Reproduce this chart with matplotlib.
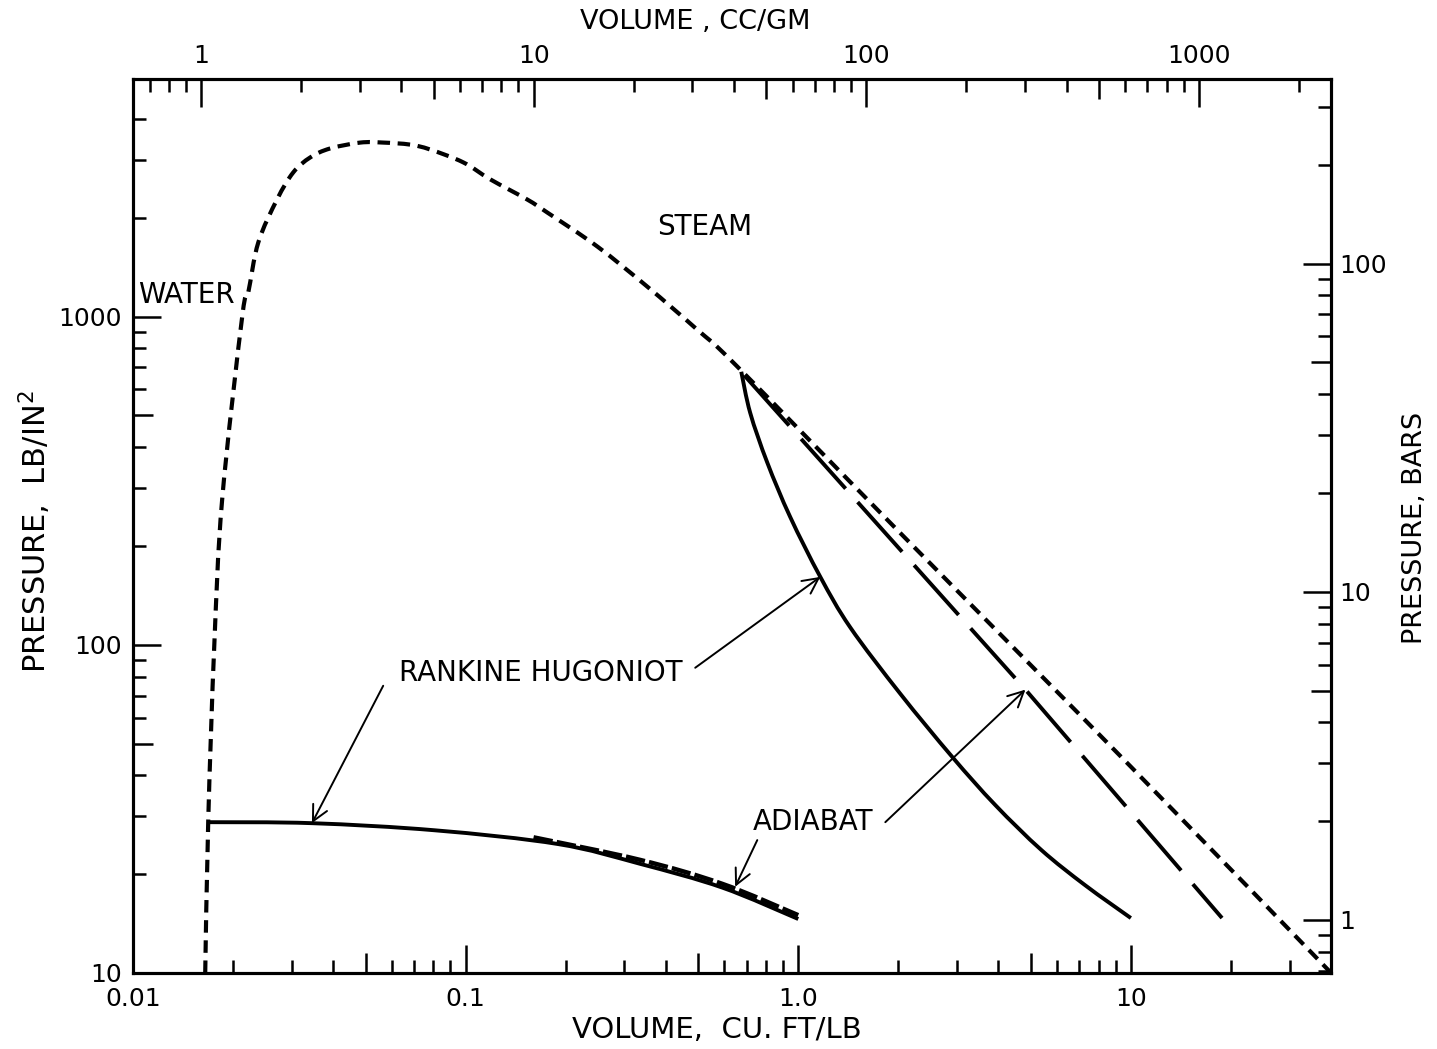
import numpy as np
import matplotlib.pyplot as plt
from matplotlib.path import Path
from matplotlib.patches import PathPatch
from matplotlib.ticker import FixedLocator, FixedFormatter, NullFormatter

plt.rcParams['font.family'] = 'DejaVu Sans'
plt.rcParams['lines.scale_dashes'] = False

PSI_PER_BAR = 14.5038
CC_GM_PER_CUFT_LB = 62.428

# saturation dome: liquid line, critical region, vapour line (cu ft/lb, psi)
sat_v = [0.01648, 0.01683, 0.01755, 0.01853, 0.02129, 0.0222, 0.0238, 0.0271,
         0.0303, 0.0341, 0.0391, 0.0482, 0.0565, 0.0681, 0.0782, 0.0983,
         0.1186, 0.153, 0.176, 0.249, 0.3516, 0.497, 0.655, 2.0, 10.0, 40.0]
sat_p = [10, 29.3, 100, 277, 1000, 1184, 1683, 2275,
         2748, 3055, 3252, 3390, 3390, 3342, 3229, 2951,
         2619, 2275, 2075, 1634, 1234, 912, 705, 222, 42.5, 10]

# Rankine-Hugoniot and adiabat from the saturated vapour point
rh_hi_v = [0.674, 0.717, 0.807, 0.946, 1.165, 1.433, 2.027, 2.90, 3.91, 5.38, 7.29, 10.0]
rh_hi_p = [679, 509, 359, 245, 161, 113, 70.9, 45.6, 32.5, 23.7, 18.5, 14.7]
ad_hi_v = [0.69, 4.82, 18.8]
ad_hi_p = [660, 73, 14.7]

# Rankine-Hugoniot and adiabat from the saturated liquid point
rh_lo_v = [0.0168, 0.0345, 0.081, 0.1897, 0.3347, 0.591, 1.0]
rh_lo_p = [28.8, 28.6, 27.2, 24.7, 21.5, 18.2, 14.6]
ad_lo_v = [0.16, 0.335, 0.59, 1.0]
ad_lo_p = [25.9, 22.1, 18.7, 15.0]

x_lim = (0.01, 40)
p_lim = (10, 5300)

x_major = [0.01, 0.1, 1.0, 10]
x_labels = ['0.01', '0.1', '1.0', '10']
p_major = [10, 100, 1000]
p_labels = ['10', '100', '1000']
cc_major = [1, 10, 100, 1000]
cc_labels = ['1', '10', '100', '1000']
bar_major = [1, 10, 100]
bar_labels = ['1', '10', '100']


def minor_between(lo, hi):
    locs = []
    for k in range(-3, 5):
        for m in range(2, 10):
            val = m * 10.0 ** k
            if lo < val < hi:
                locs.append(round(val, 6))
    return locs


def set_ticks(axis, major, labels, minor):
    axis.set_major_locator(FixedLocator(major))
    axis.set_major_formatter(FixedFormatter(labels))
    axis.set_minor_locator(FixedLocator(minor))
    axis.set_minor_formatter(NullFormatter())


def stretch_fives(axis, minor, size):
    # the 5 ticks are drawn a bit longer than the other minors
    for t, loc in zip(axis.get_minor_ticks(len(minor)), minor):
        lead = loc / 10 ** np.floor(np.log10(loc) + 1e-9)
        if abs(lead - 5) < 1e-6:
            t.tick1line.set_markersize(size)
            t.tick2line.set_markersize(size)


def smooth_curve(xs, ys):
    # Catmull-Rom through the points, done in log-log space as cubic beziers
    pts = np.column_stack([np.log10(xs), np.log10(ys)])
    n = len(pts)
    verts = [pts[0]]
    codes = [Path.MOVETO]
    for i in range(n - 1):
        p0 = pts[max(i - 1, 0)]
        p1 = pts[i]
        p2 = pts[i + 1]
        p3 = pts[min(i + 2, n - 1)]
        verts += [p1 + (p2 - p0) / 6, p2 - (p3 - p1) / 6, p2]
        codes += [Path.CURVE4] * 3
    return Path(10 ** np.array(verts), codes)


def draw_curve(ax, xs, ys, lw, dashes=None):
    patch = PathPatch(smooth_curve(xs, ys), fill=False, lw=lw, edgecolor='black',
                      capstyle='butt', joinstyle='round')
    if dashes is not None:
        patch.set_linestyle((0, dashes))
    ax.add_patch(patch)


fig = plt.figure(figsize=(14.37, 10.49), dpi=100)
ax = fig.add_axes([0.0926, 0.0725, 0.8337, 0.8523])
ax.set_xscale('log')
ax.set_yscale('log')
ax.set_xlim(*x_lim)
ax.set_ylim(*p_lim)

ink = 'black'
draw_curve(ax, sat_v, sat_p, 3.0, dashes=(9, 5.5))
draw_curve(ax, rh_hi_v, rh_hi_p, 2.8)
ax.plot(ad_hi_v, ad_hi_p, color=ink, lw=2.8, dashes=(48, 13))
draw_curve(ax, rh_lo_v, rh_lo_p, 2.8)
draw_curve(ax, ad_lo_v, ad_lo_p, 3.2, dashes=(14, 3))

# labels and pointers
txt = dict(fontsize=20, color=ink)
ax.text(0.01035, 1167, 'WATER', ha='left', va='center', **txt)
ax.text(0.525, 1879, 'STEAM', ha='center', va='center', **txt)
ax.text(0.1676, 82.2, 'RANKINE HUGONIOT', ha='center', va='center', **txt)
ax.text(1.109, 28.8, 'ADIABAT', ha='center', va='center', **txt)

arrow = dict(arrowstyle='->', lw=1.4, color=ink, shrinkA=0, shrinkB=0,
             mutation_scale=28)
ax.annotate('', xy=(0.0345, 28.6), xytext=(0.0565, 75), arrowprops=arrow)
ax.annotate('', xy=(1.165, 161), xytext=(0.49, 85.1), arrowprops=arrow)
ax.annotate('', xy=(0.646, 18.3), xytext=(0.753, 25.4), arrowprops=arrow)
ax.annotate('', xy=(4.82, 73), xytext=(1.827, 28.8), arrowprops=arrow)

# secondary scales: cc/gm on top, bars on the right
ax_top = ax.twiny()
ax_top.set_xscale('log')
ax_top.set_xlim(x_lim[0] * CC_GM_PER_CUFT_LB, x_lim[1] * CC_GM_PER_CUFT_LB)
ax_right = ax.twinx()
ax_right.set_yscale('log')
ax_right.set_ylim(p_lim[0] / PSI_PER_BAR, p_lim[1] / PSI_PER_BAR)

x_minor = minor_between(*x_lim)
p_minor = [m for m in minor_between(*p_lim) if m < 5000]
cc_minor = minor_between(x_lim[0] * CC_GM_PER_CUFT_LB, x_lim[1] * CC_GM_PER_CUFT_LB)
bar_minor = minor_between(p_lim[0] / PSI_PER_BAR, p_lim[1] / PSI_PER_BAR)

set_ticks(ax.xaxis, x_major, x_labels, x_minor)
set_ticks(ax.yaxis, p_major, p_labels, p_minor)
set_ticks(ax_top.xaxis, cc_major, cc_labels, cc_minor)
set_ticks(ax_right.yaxis, bar_major, bar_labels, bar_minor)

common = dict(direction='in', width=1.8, labelsize=18, colors=ink)
ax.tick_params(axis='x', which='major', length=20, pad=10, **common)
ax.tick_params(axis='y', which='major', length=20, pad=8, **common)
ax.tick_params(axis='both', which='minor', length=9.5, direction='in', width=1.8)
ax.tick_params(top=False, right=False, which='both')
ax_top.tick_params(axis='x', which='major', length=20, pad=8, **common)
ax_top.tick_params(axis='x', which='minor', length=9.5, direction='in', width=1.8)
ax_right.tick_params(axis='y', which='major', length=20, pad=6, **common)
ax_right.tick_params(axis='y', which='minor', length=9.5, direction='in', width=1.8)

stretch_fives(ax.xaxis, x_minor, 14.5)
stretch_fives(ax.yaxis, p_minor, 14.5)
stretch_fives(ax_top.xaxis, cc_minor, 14.5)
stretch_fives(ax_right.yaxis, bar_minor, 14.5)

for a in (ax, ax_top, ax_right):
    for s in a.spines.values():
        s.set_linewidth(2.2)

fig.text(0.499, 0.0181, 'VOLUME,  CU. FT/LB', ha='center', va='center', fontsize=21)
fig.text(0.4836, 0.979, 'VOLUME , CC/GM', ha='center', va='center', fontsize=19.5)
fig.text(0.0244, 0.4929, r'PRESSURE,  LB/IN$^{\mathregular{2}}$', ha='center', va='center',
         rotation=90, fontsize=22)
fig.text(0.9847, 0.4967, 'PRESSURE, BARS', ha='center', va='center', rotation=90,
         fontsize=19.5)

fig.savefig('out.png', dpi=100)
